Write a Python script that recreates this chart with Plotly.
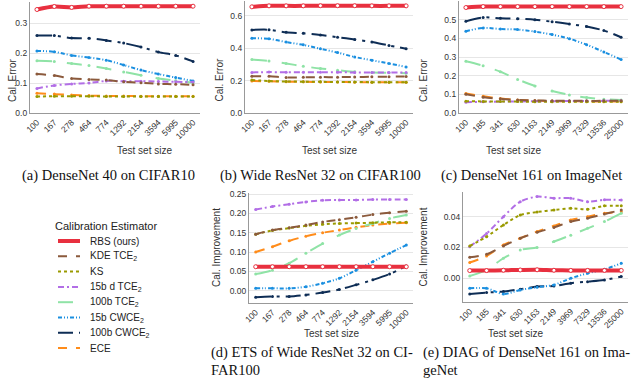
import plotly.graph_objects as go

# x tick labels (test set sizes), evenly spaced categories
SIZES_CIFAR = ["100", "167", "278", "464", "774", "1292", "2154", "3594", "5995", "10000"]
SIZES_IMNET = ["100", "185", "341", "630", "1163", "2149", "3969", "7329", "13536", "25000"]

ESTIMATORS = ["RBS (ours)", "KDE TCE<sub>2</sub>", "KS", "15b d TCE<sub>2</sub>",
              "100b TCE<sub>2</sub>", "15b CWCE<sub>2</sub>", "100b CWCE<sub>2</sub>", "ECE"]

# (a) DenseNet 40 on CIFAR10 - calibration error
a_rbs = [0.345, 0.355, 0.352, 0.356, 0.356, 0.356, 0.356, 0.356, 0.356, 0.356]
a_kde = [0.130, 0.125, 0.115, 0.112, 0.110, 0.104, 0.101, 0.097, 0.096, 0.094]
a_ks = [0.055, 0.056, 0.056, 0.056, 0.055, 0.055, 0.055, 0.055, 0.055, 0.055]
a_15d = [0.082, 0.092, 0.097, 0.100, 0.107, 0.106, 0.106, 0.105, 0.104, 0.103]
a_100t = [0.174, 0.172, 0.165, 0.158, 0.148, 0.137, 0.126, 0.115, 0.108, 0.101]
a_15cw = [0.207, 0.204, 0.192, 0.185, 0.176, 0.160, 0.143, 0.130, 0.118, 0.107]
a_100cw = [0.258, 0.258, 0.250, 0.249, 0.242, 0.233, 0.220, 0.203, 0.192, 0.172]
a_ece = [0.066, 0.063, 0.060, 0.058, 0.057, 0.057, 0.056, 0.056, 0.056, 0.056]

# (b) Wide ResNet 32 on CIFAR100 - calibration error
b_rbs = [0.654, 0.660, 0.660, 0.660, 0.661, 0.661, 0.661, 0.660, 0.660, 0.660]
b_kde = [0.227, 0.226, 0.219, 0.220, 0.221, 0.221, 0.222, 0.223, 0.224, 0.225]
b_ks = [0.203, 0.197, 0.194, 0.193, 0.192, 0.191, 0.191, 0.190, 0.190, 0.190]
b_15d = [0.250, 0.252, 0.251, 0.251, 0.251, 0.251, 0.250, 0.250, 0.250, 0.250]
b_100t = [0.329, 0.321, 0.305, 0.288, 0.274, 0.264, 0.254, 0.249, 0.248, 0.245]
b_15cw = [0.461, 0.457, 0.437, 0.420, 0.396, 0.372, 0.345, 0.325, 0.305, 0.284]
b_100cw = [0.512, 0.513, 0.497, 0.491, 0.481, 0.467, 0.453, 0.437, 0.416, 0.396]
b_ece = [0.197, 0.195, 0.193, 0.192, 0.191, 0.191, 0.190, 0.190, 0.190, 0.190]

# (c) DenseNet 161 on ImageNet - calibration error
c_rbs = [0.565, 0.570, 0.570, 0.570, 0.570, 0.570, 0.570, 0.570, 0.570, 0.570]
c_kde = [0.100, 0.085, 0.076, 0.070, 0.067, 0.066, 0.066, 0.065, 0.065, 0.065]
c_ks = [0.063, 0.062, 0.061, 0.061, 0.060, 0.060, 0.060, 0.060, 0.060, 0.060]
c_15d = [0.058, 0.060, 0.061, 0.062, 0.063, 0.063, 0.064, 0.064, 0.065, 0.065]
c_100t = [0.277, 0.253, 0.221, 0.180, 0.145, 0.118, 0.097, 0.083, 0.074, 0.070]
c_15cw = [0.438, 0.456, 0.450, 0.447, 0.436, 0.420, 0.398, 0.366, 0.327, 0.286]
c_100cw = [0.491, 0.512, 0.507, 0.505, 0.500, 0.489, 0.477, 0.463, 0.442, 0.406]
c_ece = [0.105, 0.090, 0.078, 0.070, 0.066, 0.064, 0.063, 0.062, 0.062, 0.062]

# (d) ETS of Wide ResNet 32 on CIFAR100 - calibration improvement
d_rbs = [0.062, 0.062, 0.062, 0.062, 0.062, 0.062, 0.062, 0.062, 0.062, 0.062]
d_kde = [0.146, 0.157, 0.163, 0.170, 0.178, 0.184, 0.190, 0.197, 0.202, 0.206]
d_ks = [0.146, 0.156, 0.162, 0.168, 0.172, 0.174, 0.175, 0.176, 0.177, 0.177]
d_15d = [0.210, 0.218, 0.224, 0.230, 0.234, 0.235, 0.235, 0.236, 0.236, 0.236]
d_100t = [0.043, 0.053, 0.071, 0.097, 0.122, 0.144, 0.161, 0.174, 0.187, 0.196]
d_15cw = [0.006, 0.006, 0.006, 0.010, 0.019, 0.032, 0.053, 0.075, 0.097, 0.118]
d_100cw = [-0.017, -0.015, -0.015, -0.011, -0.005, 0.003, 0.015, 0.028, 0.043, 0.064]
d_ece = [0.100, 0.114, 0.129, 0.141, 0.150, 0.157, 0.164, 0.170, 0.174, 0.176]

# (e) DIAG of DenseNet 161 on ImageNet - calibration improvement
e_rbs = [0.0050, 0.0050, 0.0052, 0.0054, 0.0055, 0.0052, 0.0051, 0.0051, 0.0051, 0.0051]
e_kde = [0.0136, 0.0156, 0.0210, 0.0260, 0.0298, 0.0330, 0.0368, 0.0390, 0.0417, 0.0443]
e_ks = [0.0210, 0.0270, 0.0346, 0.0410, 0.0430, 0.0443, 0.0454, 0.0448, 0.0470, 0.0470]
e_15d = [0.0205, 0.0290, 0.0400, 0.0497, 0.0530, 0.0520, 0.0520, 0.0497, 0.0510, 0.0508]
e_100t = [0.0015, 0.0054, 0.0130, 0.0184, 0.0200, 0.0238, 0.0280, 0.0324, 0.0368, 0.0422]
e_15cw = [-0.0065, -0.0065, -0.0102, -0.0076, -0.0058, -0.0043, 0.0000, 0.0032, 0.0058, 0.0097]
e_100cw = [-0.0102, -0.0093, -0.0086, -0.0071, -0.0054, -0.0050, -0.0032, -0.0022, -0.0011, 0.0011]
e_ece = [0.0102, 0.0145, 0.0216, 0.0260, 0.0303, 0.0340, 0.0378, 0.0400, 0.0422, 0.0432]

COLORS = ["#e8303f", "#8b5a3c", "#9a9a00", "#b26ee6", "#8fe3a6", "#1a8fe0", "#0e2d55", "#ff8c1a"]
DASHES = ["solid", "dash", "dot", "6px,3px,2px,3px", "longdash", "4px,2px,1px,2px,1px,2px",
          "longdashdot", "dash"]
FONT = "Liberation Sans, Arial, sans-serif"
SERIF = "Liberation Serif, DejaVu Serif, serif"

panels = [
    (SIZES_CIFAR, [a_rbs, a_kde, a_ks, a_15d, a_100t, a_15cw, a_100cw, a_ece]),
    (SIZES_CIFAR, [b_rbs, b_kde, b_ks, b_15d, b_100t, b_15cw, b_100cw, b_ece]),
    (SIZES_IMNET, [c_rbs, c_kde, c_ks, c_15d, c_100t, c_15cw, c_100cw, c_ece]),
    (SIZES_CIFAR, [d_rbs, d_kde, d_ks, d_15d, d_100t, d_15cw, d_100cw, d_ece]),
    (SIZES_IMNET, [e_rbs, e_kde, e_ks, e_15d, e_100t, e_15cw, e_100cw, e_ece]),
]

W, H = 640, 385
# plot boxes in pixels: left, right, top, bottom
boxes = [(30, 200, 2, 113), (245, 413, 1, 113), (459, 628, 1, 113),
         (249, 413, 193, 303), (463, 628, 192, 302)]
yranges = [[0, 0.37], [0, 0.69], [0, 0.6], [-0.032, 0.253], [-0.0154, 0.056]]
ydticks = [0.1, 0.2, 0.1, 0.05, 0.02]
yfmt = [".1f", ".1f", ".1f", ".2f", ".2f"]

fig = go.Figure()
for p, (sizes, series) in enumerate(panels):
    xa = "x" if p == 0 else f"x{p + 1}"
    ya = "y" if p == 0 else f"y{p + 1}"
    # draw in reverse so RBS ends on top of the others
    for k in reversed(range(len(ESTIMATORS))):
        if k == 0:
            marker = dict(symbol="circle", size=4, color="white",
                          line=dict(color=COLORS[0], width=1))
            width = 4
        else:
            marker = dict(size=3, color=COLORS[k])
            width = 2
        fig.add_trace(go.Scatter(
            x=sizes, y=series[k], xaxis=xa, yaxis=ya, name=ESTIMATORS[k],
            mode="lines+markers", line=dict(color=COLORS[k], width=width, dash=DASHES[k],
                                            shape="spline", smoothing=0.8),
            marker=marker, showlegend=False,
        ))

    l, r, t, b = boxes[p]
    ax_common = dict(showline=True, linecolor="#999999", linewidth=1.2, ticks="",
                     automargin=False,
                     tickfont=dict(family=FONT, size=8.5, color="#333333"))
    fig.layout[("xaxis" if p == 0 else f"xaxis{p + 1}")] = dict(
        domain=[l / W, r / W], anchor=ya, type="category", range=[-0.4, 9.4],
        tickangle=-45, showgrid=False, **ax_common)
    fig.layout[("yaxis" if p == 0 else f"yaxis{p + 1}")] = dict(
        domain=[1 - b / H, 1 - t / H], anchor=xa, range=yranges[p],
        dtick=ydticks[p], tick0=0, tickformat=yfmt[p], showgrid=True,
        gridcolor="#e6e6e6", gridwidth=1, zeroline=False, **ax_common)

annotations = []
shapes = []
# y-axis titles
ytitles = [("Cal. Error", 5, 57), ("Cal. Error", 219, 57), ("Cal. Error", 431, 57),
           ("Cal. Improvement", 216, 248), ("Cal. Improvement", 430, 247)]
for text, xp, yp in ytitles:
    annotations.append(dict(text=text, x=xp / W, y=1 - yp / H, xref="paper", yref="paper",
                            showarrow=False, textangle=-90,
                            font=dict(family=FONT, size=10, color="#333333")))
# x-axis titles
for xp, yp in [(115, 150), (329, 150), (543, 150), (331, 341), (545, 341)]:
    annotations.append(dict(text="Test set size", x=xp / W, y=1 - yp / H, xref="paper",
                            yref="paper", showarrow=False,
                            font=dict(family=FONT, size=10, color="#333333")))
# captions
captions = [("(a) DenseNet 40 on CIFAR10", 108, 176, "center"),
            ("(b) Wide ResNet 32 on CIFAR100", 320, 176, "center"),
            ("(c) DenseNet 161 on ImageNet", 531, 176, "center"),
            ("(d) ETS of Wide ResNet 32 on CI-", 209, 363, "left"),
            ("FAR100", 209, 380, "left"),
            ("(e) DIAG of DenseNet 161 on Ima-", 421, 363, "left"),
            ("geNet", 421, 380, "left")]
for text, xp, yp, anchor in captions:
    annotations.append(dict(text=text, x=xp / W, y=1 - yp / H, xref="paper", yref="paper",
                            showarrow=False, xanchor=anchor,
                            font=dict(family=SERIF, size=14.5, color="#111111")))

# legend drawn by hand so the row spacing matches the compact original
annotations.append(dict(text="Calibration Estimator", x=53 / W, y=1 - 226 / H,
                        xref="paper", yref="paper", showarrow=False, xanchor="left",
                        font=dict(family=FONT, size=11, color="#222222")))
for k, name in enumerate(ESTIMATORS):
    yp = 241 + k * 15.3
    shapes.append(dict(type="line", xref="paper", yref="paper", x0=58 / W, x1=80 / W,
                       y0=1 - yp / H, y1=1 - yp / H,
                       line=dict(color=COLORS[k], width=4 if k == 0 else 2,
                                 dash=DASHES[k])))
    annotations.append(dict(text=name, x=88 / W, y=1 - yp / H, xref="paper", yref="paper",
                            showarrow=False, xanchor="left", yanchor="middle",
                            font=dict(family=FONT, size=10, color="#222222")))

fig.update_layout(
    width=W, height=H, margin=dict(l=0, r=0, t=0, b=0),
    paper_bgcolor="white", plot_bgcolor="white",
    annotations=annotations, shapes=shapes, showlegend=False,
)

# the page body has a default margin; drop it so the figure sits at the window origin
fig.write_html("out.html", config={"displayModeBar": False},
               post_script="document.body.style.margin='0';document.body.style.overflow='hidden';")
